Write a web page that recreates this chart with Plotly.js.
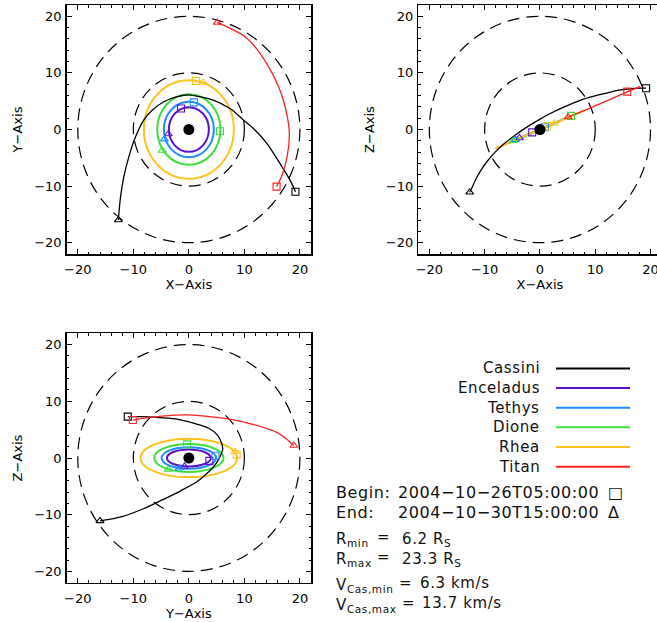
<!DOCTYPE html>
<html><head><meta charset="utf-8">
<script src="https://cdn.plot.ly/plotly-3.0.1.min.js"></script>
<style>
html,body{margin:0;padding:0;overflow:hidden;background:#fff}
.annotation-text{letter-spacing:0.6px}
</style>
</head><body><div id="chart"></div>
<script>
// ---------- data ----------
const seriesNames  = ['Cassini', 'Enceladus', 'Tethys', 'Dione', 'Rhea', 'Titan'];
const seriesColors = ['#000000', '#5a10c8', '#1e8cff', '#3ce03c', '#ffc21e', '#ff2020'];

// Cassini trajectory (R_S), begin -> end
const cassiniX = [19.2, 18.2, 16.4, 14.0, 11.9, 9.8, 7.4, 4.4, 1.4, -0.4, -2.1, -4.5, -6.6, -8.1, -9.6, -10.8, -11.7, -12.3, -12.7];
const cassiniY = [-11.0, -8.9, -6.0, -2.4, -0.1, 1.7, 3.7, 5.2, 5.9, 6.1, 5.8, 4.9, 3.4, 1.7, -1.3, -4.8, -8.3, -11.9, -16.0];
const cassiniZ = [7.3, 7.3, 7.2, 6.9, 6.4, 5.9, 5.2, 4.0, 2.6, 1.6, 0.6, -1.0, -2.6, -4.0, -5.7, -7.4, -9.0, -10.3, -11.1];

// Titan path, begin -> end
const titanX = [15.8, 16.7, 17.7, 18.1, 17.6, 16.4, 14.0, 10.5, 7.4, 5.1];
const titanY = [-10.1, -8.3, -4.8, -0.7, 2.9, 7.0, 11.7, 16.1, 17.9, 18.9];
const titanZ = [6.7, 7.0, 7.4, 7.6, 7.4, 6.9, 5.9, 4.4, 3.1, 2.2];

// Inner moons (Enceladus, Tethys, Dione, Rhea): half-extent of the traced orbits
const moonOrbitHalfX = [3.6, 4.5, 5.7, 8.1];
const moonOrbitHalfY = [3.95, 4.9, 6.25, 8.7];
const moonOrbitHalfZ = [1.5, 1.9, 2.45, 3.4];
// begin / end positions of the moons
const moonBeginX = [-1.4, 0.9, 5.6, 1.3];
const moonBeginY = [3.7, 4.8, -0.3, 8.6];
const moonBeginZ = [-0.5, 0.4, 2.4, 0.6];
const moonEndX = [-3.7, -4.4, -4.8, 2.6];
const moonEndY = [-0.8, -1.7, -3.7, 8.3];
const moonEndZ = [-1.5, -1.8, -2.0, 1.1];

const saturnPos = [0, 0, 0];
const refCircleRadii = [10, 20];
const axisRange = [-22, 22];
const tickStep = 10, minorStep = 2;

const beginTime = '2004\u221210\u221226T05:00:00';
const endTime   = '2004\u221210\u221230T15:00:00';
const rMin = 6.2, rMax = 23.3, vMin = 6.3, vMax = 13.7;

// ---------- layout helpers ----------
const W = 664, H = 622;
const px = v => v / W, py = v => (H - v) / H;
const FONT = 'DejaVu Sans, Liberation Sans, sans-serif';

const coord = {
  X: {cas: cassiniX, titan: titanX, mb: moonBeginX, me: moonEndX, half: moonOrbitHalfX, s: saturnPos[0]},
  Y: {cas: cassiniY, titan: titanY, mb: moonBeginY, me: moonEndY, half: moonOrbitHalfY, s: saturnPos[1]},
  Z: {cas: cassiniZ, titan: titanZ, mb: moonBeginZ, me: moonEndZ, half: moonOrbitHalfZ, s: saturnPos[2]}
};
const panels = [
  {xa: 'x',  ya: 'y',  h: 'X', v: 'Y', dx: [66.7, 311],   dy: [5, 254]},
  {xa: 'x2', ya: 'y2', h: 'X', v: 'Z', dx: [418.3, 661.6], dy: [5, 254]},
  {xa: 'x3', ya: 'y3', h: 'Y', v: 'Z', dx: [66.7, 311],   dy: [333.3, 582.7]}
];

const traces = [], shapes = [], annotations = [];
const layout = {
  width: W, height: H, margin: {l: 0, r: 0, t: 0, b: 0},
  paper_bgcolor: '#fff', plot_bgcolor: '#fff', showlegend: false,
  font: {family: FONT, color: '#000'}
};

function axisDef(dom, anchor, title, isX) {
  return {
    domain: dom, anchor: anchor, range: axisRange, autorange: false,
    tick0: 0, dtick: tickStep, ticks: 'inside', ticklen: 5, tickwidth: 1, tickcolor: '#000',
    minor: {ticks: 'inside', dtick: minorStep, ticklen: 2.5, tickwidth: 1, tickcolor: '#000', showgrid: false},
    showline: true, linecolor: '#000', linewidth: 1.5, mirror: 'ticks',
    showgrid: false, zeroline: false, automargin: false, fixedrange: true,
    ticklabelstandoff: isX ? 3 : 1,
    tickfont: {family: FONT, size: 13, color: '#000'},
    title: {text: title, standoff: isX ? 1 : 8, font: {family: FONT, size: 13, color: '#000'}}
  };
}

panels.forEach((p, k) => {
  const n = k === 0 ? '' : String(k + 1);
  layout['xaxis' + n] = axisDef([px(p.dx[0]), px(p.dx[1])], p.ya, p.h + '\u2212Axis', true);
  layout['yaxis' + n] = axisDef([py(p.dy[1]), py(p.dy[0])], p.xa, p.v + '\u2212Axis', false);
  const H_ = coord[p.h], V_ = coord[p.v];

  // dashed reference circles
  refCircleRadii.forEach(r => shapes.push({
    type: 'circle', xref: p.xa, yref: p.ya, x0: -r, x1: r, y0: -r, y1: r,
    line: {color: '#000', width: 1.2, dash: '12px,7px'}, layer: 'below'
  }));
  // moon orbits
  moonOrbitHalfX.forEach((_, i) => {
    const a = H_.half[i], b = V_.half[i];
    const flat = (p.h === 'X' && p.v === 'Z');
    shapes.push({type: flat ? 'line' : 'circle', xref: p.xa, yref: p.ya, x0: -a, x1: a, y0: -b, y1: b,
      line: {color: seriesColors[i + 1], width: 2}, layer: 'below'});
  });

  // Cassini
  traces.push({x: H_.cas, y: V_.cas, xaxis: p.xa, yaxis: p.ya, mode: 'lines',
    line: {color: seriesColors[0], width: 1.3, shape: 'spline', smoothing: 1}, hoverinfo: 'skip'});
  // Titan
  traces.push({x: H_.titan, y: V_.titan, xaxis: p.xa, yaxis: p.ya, mode: 'lines',
    line: {color: seriesColors[5], width: 1.3, shape: 'spline', smoothing: 1}, hoverinfo: 'skip'});
  // begin / end markers
  const last = a => a[a.length - 1];
  traces.push({x: [H_.cas[0], ...H_.mb, H_.titan[0]], y: [V_.cas[0], ...V_.mb, V_.titan[0]],
    xaxis: p.xa, yaxis: p.ya, mode: 'markers', hoverinfo: 'skip',
    marker: {symbol: 'square-open', size: 7, color: seriesColors, line: {width: 1.1}}});
  traces.push({x: [last(H_.cas), ...H_.me, last(H_.titan)], y: [last(V_.cas), ...V_.me, last(V_.titan)],
    xaxis: p.xa, yaxis: p.ya, mode: 'markers', hoverinfo: 'skip',
    marker: {symbol: 'triangle-up-open', size: 7, color: seriesColors, line: {width: 1.1}}});
  // Saturn
  traces.push({x: [H_.s], y: [V_.s], xaxis: p.xa, yaxis: p.ya, mode: 'markers', hoverinfo: 'skip',
    marker: {symbol: 'circle', size: 11, color: '#000'}});
});

// ---------- legend (text + line samples) ----------
const legRow0 = 368.4, legStep = 19.65;
seriesNames.forEach((name, i) => {
  const y = legRow0 + i * legStep;
  annotations.push({xref: 'paper', yref: 'paper', x: px(542), y: py(y), xanchor: 'right', yanchor: 'middle',
    text: name, showarrow: false, font: {family: FONT, size: 15, color: '#111'}});
  shapes.push({type: 'line', xref: 'paper', yref: 'paper', x0: px(556), x1: px(630), y0: py(y), y1: py(y),
    line: {color: seriesColors[i], width: 2}});
});

// ---------- info text ----------
function note(x, y, text, size) {
  annotations.push({xref: 'paper', yref: 'paper', x: px(x), y: py(y), xanchor: 'left', yanchor: 'middle',
    text: text, showarrow: false, font: {family: FONT, size: size || 15, color: '#111'}});
}
note(334, 492.5, 'Begin:', 16);
note(395.5, 492.5, beginTime, 16);
note(605.5, 492.5, '\u25A1', 16);
note(334, 512.5, 'End:', 16);
note(395.5, 512.5, endTime, 16);
note(605.5, 512.5, '\u0394', 16);
note(334, 539, 'R<sub>min</sub>');
note(374.5, 536.5, '=');
note(400.5, 539, rMin.toFixed(1) + '\u00a0R<sub>S</sub>');
note(334, 559, 'R<sub>max</sub>');
note(374.5, 556.5, '=');
note(400.5, 559, rMax.toFixed(1) + '\u00a0R<sub>S</sub>');
note(334, 585.5, 'V<sub>Cas,min</sub>');
note(397, 582.5, '=');
note(418, 582.5, vMin.toFixed(1) + '\u00a0km/s');
note(334, 605.5, 'V<sub>Cas,max</sub>');
note(399.5, 602.5, '=');
note(419.5, 602.5, vMax.toFixed(1) + '\u00a0km/s');

layout.shapes = shapes;
layout.annotations = annotations;
Plotly.newPlot('chart', traces, layout, {staticPlot: true, displayModeBar: false});
</script></body></html>
